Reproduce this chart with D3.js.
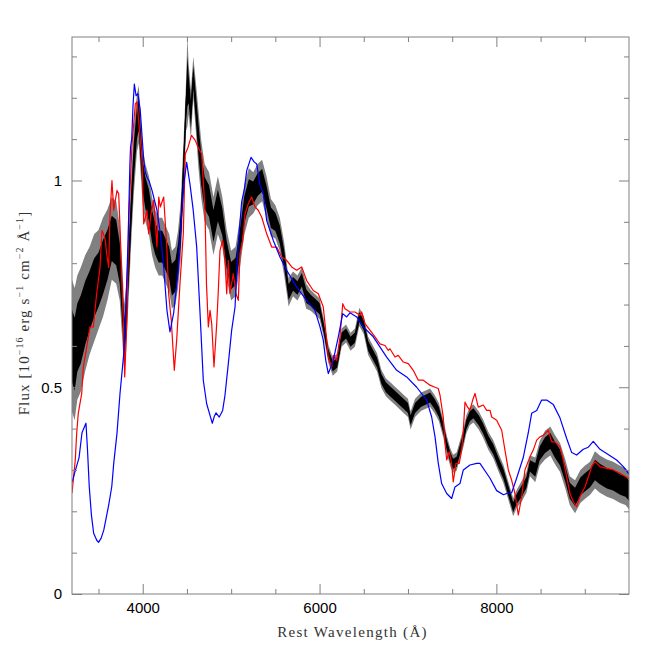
<!DOCTYPE html>
<html><head><meta charset="utf-8">
<script src="https://cdn.jsdelivr.net/npm/d3@7"></script>
<style>body{margin:0;background:#fff}</style>
</head><body>
<script>
// ---- axis definitions ----
const xDomain = [3200, 9500];
const yDomain = [0, 1.347];
const xMajorTicks = [4000, 6000, 8000];
const xTickLabels = ["4000", "6000", "8000"];
const xMinorTicks = [3500, 4500, 5000, 5500, 6500, 7000, 7500, 8500, 9000];
const yMajorTicks = [0, 0.5, 1];
const yTickLabels = ["0", "0.5", "1"];
const yMinorTicks = [0.1, 0.2, 0.3, 0.4, 0.6, 0.7, 0.8, 0.9, 1.1, 1.2, 1.3];
const xTitle = "Rest Wavelength (Å)";

// ---- observed spectrum (black): centre flux and noise half-width ----
const blackWave = [3200,3230,3260,3300,3350,3400,3450,3500,3550,3600,
3650,3700,3740,3770,3790,3810,3840,3870,3900,3935,
3955,3975,4000,4030,4070,4105,4140,4180,4220,4260,
4300,4330,4370,4400,4430,4460,4490,4505,4520,4545,
4572,4600,4630,4660,4700,4750,4800,4850,4900,4950,
5000,5050,5100,5150,5200,5250,5300,5350,5400,5450,
5500,5550,5600,5650,5700,5750,5800,5850,5900,5950,
6000,6050,6100,6150,6200,6250,6300,6350,6400,6450,
6500,6550,6600,6650,6700,6750,6800,6850,6900,6950,
7000,7030,7080,7150,7200,7250,7300,7350,7400,7440,
7480,7510,7550,7590,7630,7660,7700,7740,7800,7850,
7910,7965,8020,8080,8135,8190,8230,8290,8340,8380,
8440,8490,8550,8610,8660,8720,8780,8830,8890,8950,
9000,9060,9115,9170,9250,9320,9400,9460,9500];
const blackFlux = [0.60,0.58,0.62,0.64,0.68,0.71,0.74,0.76,0.79,0.82,
0.86,0.85,0.80,0.70,0.62,0.66,0.79,0.93,1.05,1.14,
1.16,1.09,1.01,0.97,0.94,0.89,0.86,0.84,0.84,0.82,
0.80,0.76,0.77,0.81,0.88,1.02,1.18,1.24,1.22,1.16,
1.25,1.18,1.10,1.03,0.97,0.95,0.89,0.94,0.90,0.82,
0.77,0.78,0.85,0.93,0.97,0.97,0.99,1.00,0.96,0.91,
0.90,0.87,0.81,0.73,0.75,0.74,0.76,0.72,0.71,0.70,
0.69,0.64,0.58,0.55,0.56,0.62,0.63,0.61,0.62,0.67,
0.65,0.60,0.58,0.56,0.52,0.50,0.49,0.48,0.47,0.46,
0.45,0.42,0.45,0.465,0.47,0.475,0.46,0.44,0.40,0.36,
0.33,0.315,0.32,0.35,0.38,0.41,0.43,0.437,0.42,0.40,
0.37,0.35,0.32,0.29,0.25,0.21,0.23,0.25,0.27,0.31,
0.30,0.34,0.36,0.37,0.35,0.33,0.29,0.25,0.235,0.26,
0.27,0.28,0.30,0.29,0.28,0.275,0.265,0.26,0.25];
const blackSpread = [0.16,0.16,0.15,0.15,0.14,0.13,0.13,0.12,0.12,0.11,
0.10,0.10,0.09,0.09,0.08,0.08,0.08,0.08,0.08,0.07,
0.07,0.07,0.07,0.07,0.07,0.07,0.07,0.07,0.07,0.07,
0.07,0.07,0.07,0.07,0.07,0.07,0.06,0.11,0.06,0.06,
0.05,0.06,0.07,0.07,0.07,0.07,0.07,0.07,0.06,0.06,
0.06,0.06,0.06,0.06,0.06,0.05,0.05,0.05,0.05,0.045,
0.04,0.04,0.04,0.035,0.03,0.03,0.03,0.03,0.025,0.025,
0.025,0.022,0.022,0.022,0.022,0.022,0.022,0.022,0.022,0.022,
0.022,0.022,0.022,0.022,0.022,0.022,0.022,0.022,0.022,0.022,
0.022,0.022,0.022,0.022,0.022,0.022,0.022,0.022,0.022,0.022,
0.022,0.022,0.022,0.022,0.022,0.022,0.022,0.022,0.022,0.022,
0.022,0.022,0.022,0.022,0.022,0.022,0.022,0.025,0.025,0.025,
0.03,0.03,0.035,0.035,0.035,0.035,0.035,0.035,0.04,0.04,
0.04,0.04,0.045,0.045,0.045,0.045,0.045,0.045,0.045];

// ---- model spectrum (red) ----
const redWave = [3200,3237,3253,3271,3310,3328,3366,3404,3441,3479,
3517,3539,3554,3577,3592,3615,3630,3652,3672,3709,
3728,3746,3765,3785,3796,3822,3841,3879,3916,3935,
3954,3992,4011,4048,4067,4094,4124,4161,4181,4199,
4237,4274,4293,4323,4357,4384,4421,4459,4481,4512,
4552,4594,4633,4667,4687,4704,4721,4742,4761,4780,
4806,4837,4855,4874,4904,4930,4950,4968,4987,5024,
5055,5081,5100,5131,5157,5194,5232,5270,5307,5346,
5402,5459,5515,5572,5628,5685,5741,5798,5854,5929,
5986,6042,6073,6099,6137,6155,6194,6231,6262,6288,
6344,6401,6457,6476,6514,6570,6627,6683,6740,6777,
6796,6853,6890,6947,7004,7060,7117,7173,7249,7306,
7343,7362,7399,7419,7438,7467,7494,7512,7543,7580,
7607,7626,7645,7671,7701,7732,7758,7795,7852,7890,
7928,7947,8003,8060,8097,8135,8173,8210,8248,8286,
8323,8380,8417,8456,8493,8530,8587,8625,8663,8719,
8757,8795,8832,8870,8908,8945,9002,9040,9078,9115,
9172,9247,9323,9398,9500];
const redFlux = [0.244,0.324,0.389,0.437,0.485,0.549,0.597,0.646,0.646,0.726,
0.79,0.879,0.872,0.855,0.823,0.79,0.919,1.0,0.928,0.976,
0.968,0.872,0.75,0.63,0.525,0.67,0.903,1.088,1.185,1.19,
1.145,1.048,0.895,0.928,0.871,0.92,0.952,0.839,0.96,0.936,
0.96,0.831,0.726,0.662,0.541,0.614,0.75,0.871,1.064,1.08,
1.109,1.097,1.077,1.064,0.99,0.93,0.75,0.646,0.686,0.654,
0.549,0.654,0.734,0.831,0.855,0.807,0.726,0.807,0.727,0.775,
0.726,0.71,0.823,0.855,0.919,0.944,0.96,0.936,0.928,0.911,
0.871,0.839,0.839,0.815,0.807,0.791,0.783,0.791,0.758,0.734,
0.726,0.694,0.63,0.573,0.549,0.577,0.565,0.622,0.702,0.69,
0.682,0.682,0.674,0.682,0.654,0.638,0.622,0.605,0.601,0.589,
0.593,0.573,0.577,0.561,0.557,0.541,0.517,0.517,0.505,0.50,
0.497,0.481,0.428,0.364,0.324,0.344,0.316,0.271,0.316,0.316,
0.348,0.396,0.464,0.453,0.444,0.469,0.485,0.452,0.457,0.444,
0.444,0.428,0.42,0.396,0.348,0.30,0.275,0.243,0.191,0.235,
0.30,0.332,0.348,0.372,0.38,0.384,0.396,0.368,0.368,0.356,
0.324,0.283,0.243,0.223,0.211,0.235,0.259,0.283,0.308,0.32,
0.308,0.304,0.30,0.292,0.279];

// ---- model spectrum (blue) ----
const blueWave = [3200,3240,3280,3313,3358,3375,3395,3420,3445,3480,
3500,3530,3560,3615,3650,3672,3709,3743,3785,3810,
3835,3855,3862,3875,3890,3905,3925,3945,3972,4011,
4030,4048,4070,4105,4161,4199,4237,4274,4308,4350,
4400,4440,4470,4497,4535,4570,4610,4648,4685,4723,
4761,4787,4810,4829,4866,4904,4930,4968,5006,5044,
5081,5119,5150,5176,5225,5260,5289,5326,5364,5402,
5477,5552,5628,5741,5854,5948,6005,6042,6070,6099,
6155,6212,6262,6307,6344,6420,6495,6608,6759,6872,
6985,7099,7212,7268,7306,7343,7381,7438,7494,7532,
7588,7626,7701,7777,7814,7928,8003,8080,8116,8173,
8229,8304,8361,8399,8456,8512,8569,8644,8719,8795,
8852,8908,8983,9040,9096,9172,9247,9360,9436,9500];
const blueFlux = [0.27,0.30,0.33,0.39,0.413,0.35,0.26,0.19,0.147,0.13,
0.125,0.135,0.155,0.215,0.26,0.316,0.389,0.485,0.58,0.70,
0.86,1.04,1.08,1.10,1.18,1.233,1.205,1.21,1.17,1.05,
1.02,1.008,1.0,0.976,0.928,0.872,0.79,0.686,0.634,0.68,
0.78,0.92,1.0,1.044,0.99,0.93,0.84,0.68,0.517,0.46,
0.432,0.413,0.43,0.438,0.428,0.444,0.48,0.557,0.638,0.694,
0.85,0.948,0.98,1.024,1.056,1.045,1.04,0.99,0.968,0.903,
0.855,0.815,0.783,0.742,0.71,0.686,0.646,0.614,0.565,0.533,
0.565,0.622,0.678,0.67,0.68,0.67,0.646,0.622,0.573,0.541,
0.525,0.50,0.469,0.428,0.38,0.316,0.267,0.243,0.231,0.259,
0.267,0.30,0.312,0.316,0.316,0.28,0.25,0.24,0.243,0.245,
0.28,0.33,0.39,0.437,0.444,0.469,0.469,0.458,0.426,0.376,
0.342,0.336,0.35,0.355,0.369,0.35,0.34,0.324,0.308,0.29];

// ---- drawing ----
const W = 664, H = 664, L = 72, R = 629, T = 37, B = 594;
const x = d3.scaleLinear().domain(xDomain).range([L, R]);
const y = d3.scaleLinear().domain(yDomain).range([B, T]);
const frameColor = "#808080";

const svg = d3.select("body").append("svg").attr("width", W).attr("height", H)
  .style("display", "block").style("background", "#fff");
svg.append("defs").append("clipPath").attr("id", "clip")
  .append("rect").attr("x", L).attr("y", T).attr("width", R - L).attr("height", B - T);

const plot = svg.append("g").attr("clip-path", "url(#clip)");

const black = d3.zip(blackWave, blackFlux, blackSpread);
const red = d3.zip(redWave, redFlux);
const blue = d3.zip(blueWave, blueFlux);

plot.append("path").datum(black)
  .attr("d", d3.area().x(d => x(d[0])).y0(d => y(d[1] - d[2])).y1(d => y(d[1] + d[2])))
  .attr("fill", "#808080");
plot.append("path").datum(black)
  .attr("d", d3.area().x(d => x(d[0])).y0(d => y(d[1] - 0.55 * d[2])).y1(d => y(d[1] + 0.55 * d[2])))
  .attr("fill", "#000");
const line = d3.line().x(d => x(d[0])).y(d => y(d[1]));
plot.append("path").datum(black).attr("d", line)
  .attr("fill", "none").attr("stroke", "#000").attr("stroke-width", 1.2);
plot.append("path").datum(red).attr("d", line)
  .attr("fill", "none").attr("stroke", "#ff0000").attr("stroke-width", 1.2).attr("stroke-linejoin", "round");
plot.append("path").datum(blue).attr("d", line)
  .attr("fill", "none").attr("stroke", "#0000ff").attr("stroke-width", 1.2).attr("stroke-linejoin", "round");

function styleAxis(g) {
  g.select(".domain").remove();
  g.selectAll(".tick line").attr("stroke", frameColor).attr("stroke-width", 1);
  g.attr("font-family", "'Liberation Sans', Arial, Helvetica, sans-serif").attr("font-size", 15);
  g.selectAll(".tick text").attr("fill", "#000");
}
// bottom
svg.append("g").attr("transform", `translate(0,${B})`)
  .call(d3.axisBottom(x).tickValues(xMajorTicks).tickFormat((d, i) => xTickLabels[i]).tickSize(-10).tickPadding(8)).call(styleAxis);
svg.append("g").attr("transform", `translate(0,${B})`)
  .call(d3.axisBottom(x).tickValues(xMinorTicks).tickFormat("").tickSize(-5)).call(styleAxis);
// top
svg.append("g").attr("transform", `translate(0,${T})`)
  .call(d3.axisTop(x).tickValues(xMajorTicks).tickFormat("").tickSize(-10)).call(styleAxis);
svg.append("g").attr("transform", `translate(0,${T})`)
  .call(d3.axisTop(x).tickValues(xMinorTicks).tickFormat("").tickSize(-5)).call(styleAxis);
// left
svg.append("g").attr("transform", `translate(${L},0)`)
  .call(d3.axisLeft(y).tickValues(yMajorTicks).tickFormat((d, i) => yTickLabels[i]).tickSize(-10).tickPadding(10)).call(styleAxis);
svg.append("g").attr("transform", `translate(${L},0)`)
  .call(d3.axisLeft(y).tickValues(yMinorTicks).tickFormat("").tickSize(-5)).call(styleAxis);
// right
svg.append("g").attr("transform", `translate(${R},0)`)
  .call(d3.axisRight(y).tickValues(yMajorTicks).tickFormat("").tickSize(-10)).call(styleAxis);
svg.append("g").attr("transform", `translate(${R},0)`)
  .call(d3.axisRight(y).tickValues(yMinorTicks).tickFormat("").tickSize(-5)).call(styleAxis);

// frame
svg.append("rect").attr("x", L).attr("y", T).attr("width", R - L).attr("height", B - T)
  .attr("fill", "none").attr("stroke", frameColor).attr("stroke-width", 1);

// titles
svg.append("text").attr("x", (L + R) / 2 + 2).attr("y", 637).attr("text-anchor", "middle")
  .attr("font-family", "'Liberation Serif', 'Times New Roman', serif").attr("font-size", 15)
  .attr("letter-spacing", 1.3).attr("fill", "#333").text(xTitle);

const yt = svg.append("text").attr("transform", "translate(29,313) rotate(-90)")
  .attr("text-anchor", "middle")
  .attr("font-family", "'Liberation Serif', 'Times New Roman', serif").attr("font-size", 15)
  .attr("letter-spacing", 1.1).attr("fill", "#333");
const yParts = [["Flux [10", false], ["−16", true], [" erg s", false], ["−1", true], [" cm", false], ["−2", true], [" Å", false], ["−1", true], ["]", false]];
let sup = false;
yParts.forEach(([t, s]) => {
  const ts = yt.append("tspan").text(t);
  if (s) { ts.attr("font-size", 10).attr("dy", sup ? 0 : -6); }
  else if (sup) { ts.attr("dy", 6); }
  sup = s;
});
</script>
</body></html>
